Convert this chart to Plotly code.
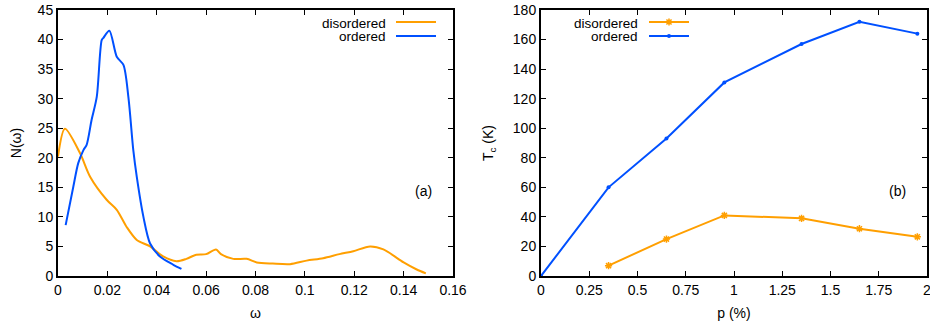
import plotly.graph_objects as go

# ---- panel (a): density of states N(omega) ----
omega_dis = [0.0, 0.0028, 0.0089, 0.013, 0.0197, 0.0238, 0.0278, 0.0319, 0.0373, 0.0426,
             0.048, 0.052, 0.056, 0.060, 0.064, 0.066, 0.071, 0.0764, 0.0805, 0.087,
             0.094, 0.1007, 0.1074, 0.114, 0.1196, 0.1264, 0.1318, 0.140, 0.1453, 0.149]
n_dis = [20.2, 24.9, 20.8, 16.8, 12.9, 11.2, 8.3, 6.1, 5.0, 3.3,
         2.5, 2.9, 3.6, 3.7, 4.5, 3.7, 2.9, 2.9, 2.3, 2.1,
         2.0, 2.6, 3.0, 3.7, 4.2, 5.0, 4.5, 2.3, 1.1, 0.45]

omega_ord = [0.0031, 0.0062, 0.0082, 0.0103, 0.0116, 0.0136, 0.0157, 0.0177, 0.0184, 0.0208,
             0.0238, 0.0265, 0.0285, 0.0305, 0.0319, 0.0346, 0.0373, 0.0413, 0.0467, 0.050]
n_ord = [8.6, 15.1, 19.1, 21.3, 22.2, 26.4, 30.3, 39.9, 40.3, 41.5,
         37.1, 35.7, 30.3, 21.3, 16.8, 10.0, 5.5, 3.3, 1.9, 1.2]

# ---- panel (b): critical temperature vs doping ----
p_dis = [0.35, 0.65, 0.95, 1.35, 1.65, 1.95]
tc_dis = [7.0, 25.0, 41.0, 39.0, 32.0, 26.5]
p_ord = [0.0, 0.35, 0.65, 0.95, 1.35, 1.65, 1.95]
tc_ord = [0.0, 60.0, 93.0, 131.0, 157.0, 172.0, 164.0]

xa_ticks = [0, 0.02, 0.04, 0.06, 0.08, 0.1, 0.12, 0.14, 0.16]
xa_text = ["0", "0.02", "0.04", "0.06", "0.08", "0.1", "0.12", "0.14", "0.16"]
ya_ticks = [0, 5, 10, 15, 20, 25, 30, 35, 40, 45]
xb_ticks = [0, 0.25, 0.5, 0.75, 1, 1.25, 1.5, 1.75, 2]
xb_text = ["0", "0.25", "0.5", "0.75", "1", "1.25", "1.5", "1.75", "2"]
yb_ticks = [0, 20, 40, 60, 80, 100, 120, 140, 160, 180]

ORANGE = "#ff9f00"
BLUE = "#0050ff"
FONT = "Liberation Sans, Arial, sans-serif"
FS = 14

W, H = 930, 329
# plot-area edges in pixels
A_L, A_R = 58, 453
B_L, B_R = 541, 927
P_T, P_B = 10, 276

fig = go.Figure()

fig.add_trace(go.Scatter(x=omega_dis, y=n_dis, mode="lines",
                         line=dict(color=ORANGE, width=2, shape="spline", smoothing=0.8),
                         xaxis="x", yaxis="y", showlegend=False))
fig.add_trace(go.Scatter(x=omega_ord, y=n_ord, mode="lines",
                         line=dict(color=BLUE, width=2, shape="spline", smoothing=0.8),
                         xaxis="x", yaxis="y", showlegend=False))

DIS_MARK = dict(symbol="asterisk-open", size=6, color=ORANGE, line=dict(color=ORANGE, width=1.5))
ORD_MARK = dict(symbol="circle", size=4, color=BLUE)

fig.add_trace(go.Scatter(x=p_dis, y=tc_dis, mode="lines+markers", line=dict(color=ORANGE, width=2),
                         marker=DIS_MARK, xaxis="x2", yaxis="y2", showlegend=False, cliponaxis=False))
fig.add_trace(go.Scatter(x=p_ord, y=tc_ord, mode="lines+markers", line=dict(color=BLUE, width=2),
                         marker=ORD_MARK, xaxis="x2", yaxis="y2", showlegend=False, cliponaxis=False))

KEY_Y = (22, 36)


def px_to_b(xpx, ypx):
    """Convert a pixel position inside panel (b) to its data coordinates."""
    return ((xpx - B_L) / (B_R - B_L) * 2.0, (P_B - ypx) / (P_B - P_T) * 180.0)


# key symbols for panel (b), centred on their line samples
for ypx, mk in zip(KEY_Y, (DIS_MARK, ORD_MARK)):
    kx, ky = px_to_b(669, ypx)
    fig.add_trace(go.Scatter(x=[kx], y=[ky], mode="markers", marker=mk, xaxis="x2", yaxis="y2",
                             showlegend=False, hoverinfo="skip", cliponaxis=False))

ax_common = dict(showline=True, linecolor="black", linewidth=2, mirror="allticks",
                 ticks="inside", ticklen=5, tickwidth=1, tickcolor="black",
                 showgrid=False, zeroline=False, automargin=False,
                 ticklabeloverflow="allow",
                 tickfont=dict(family=FONT, size=FS, color="black"))

YDOM = [(H - P_B) / H, (H - P_T) / H]
XDOM_A = [A_L / W, A_R / W]
XDOM_B = [B_L / W, B_R / W]
TFONT = dict(family=FONT, size=FS, color="black")
KFONT = dict(family=FONT, size=13.5, color="black")

fig.update_layout(
    width=W, height=H,
    margin=dict(l=0, r=0, t=0, b=0),
    paper_bgcolor="white", plot_bgcolor="white",
    font=dict(family=FONT, size=FS, color="black"),
    xaxis=dict(domain=XDOM_A, range=[0, 0.16], tickvals=xa_ticks, ticktext=xa_text,
               title=dict(text="ω", standoff=11, font=TFONT), anchor="y", **ax_common),
    yaxis=dict(domain=YDOM, range=[0, 45], tickvals=ya_ticks,
               title=dict(text="N(ω)", standoff=13, font=TFONT), anchor="x", **ax_common),
    xaxis2=dict(domain=XDOM_B, range=[0, 2], tickvals=xb_ticks, ticktext=xb_text,
                title=dict(text="p (%)", standoff=11, font=TFONT), anchor="y2", **ax_common),
    yaxis2=dict(domain=YDOM, range=[0, 180], tickvals=yb_ticks,
                title=dict(text="T<sub>c</sub> (K)", standoff=16, font=TFONT), anchor="x2", **ax_common),
)


# gnuplot-style keys: right-aligned label followed by the line sample
def key(x_px, y_px, label):
    return dict(x=x_px / W, y=1 - y_px / H, xref="paper", yref="paper",
                text=label, showarrow=False, xanchor="right", yanchor="middle",
                borderpad=0, font=KFONT)


def key_line(x0_px, x1_px, y_px, color):
    return dict(type="line", xref="paper", yref="paper",
                x0=x0_px / W, x1=x1_px / W, y0=1 - y_px / H, y1=1 - y_px / H,
                line=dict(color=color, width=2))


fig.update_layout(
    annotations=[
        key(387, KEY_Y[0] + 1, "disordered"), key(387, KEY_Y[1] + 1, "ordered"),
        key(639, KEY_Y[0] + 1, "disordered"), key(639, KEY_Y[1] + 1, "ordered"),
        dict(x=423 / W, y=1 - 191 / H, xref="paper", yref="paper", text="(a)", showarrow=False,
             xanchor="center", yanchor="middle", font=TFONT),
        dict(x=897 / W, y=1 - 191 / H, xref="paper", yref="paper", text="(b)", showarrow=False,
             xanchor="center", yanchor="middle", font=TFONT),
    ],
    shapes=[
        key_line(396, 436, KEY_Y[0], ORANGE), key_line(396, 436, KEY_Y[1], BLUE),
        key_line(649, 689, KEY_Y[0], ORANGE), key_line(649, 689, KEY_Y[1], BLUE),
    ],
)

fig.write_html("out.html")
